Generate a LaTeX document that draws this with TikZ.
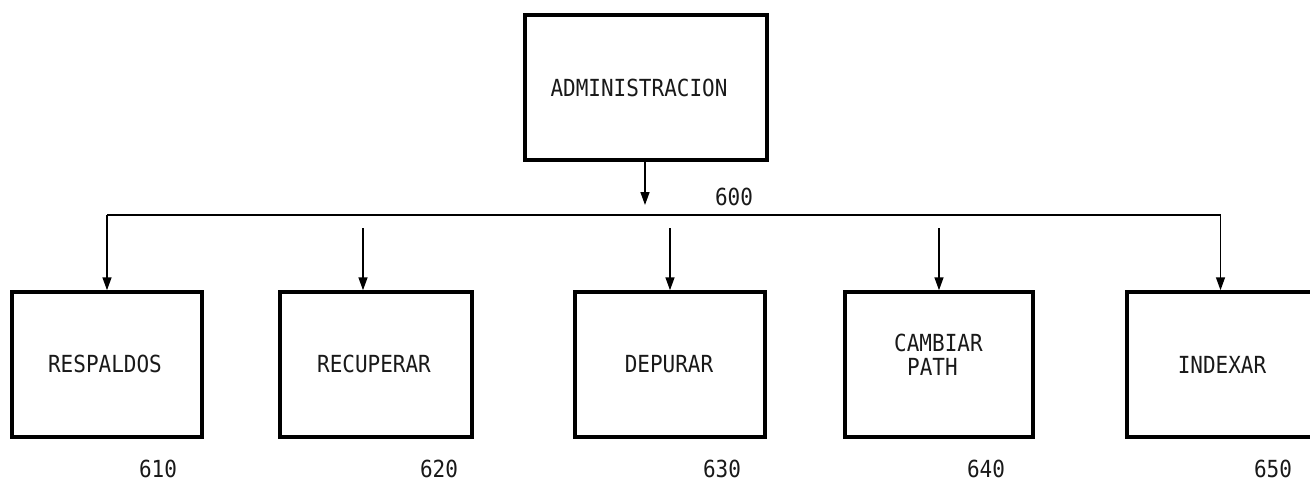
\documentclass[tikz,border=0pt]{standalone}
\usepackage{fontspec}
\usepackage{graphicx}
\newfontfamily\plotfont{DejaVu Sans Mono}
\newcommand{\tall}[1]{\scalebox{1}[1.12]{#1}}
\usetikzlibrary{arrows.meta}
\tikzset{
  box/.style={draw=black, line width=3.5pt, rectangle, inner sep=0pt},
  num/.style={inner sep=0pt, text=black!90, font=\plotfont\fontsize{21}{21}\selectfont},
  conn/.style={draw=black, line width=1.5pt},
  arr/.style={conn, -{Triangle[length=13pt,width=9pt]}}
}
\begin{document}
\begin{tikzpicture}[x=1pt,y=-1pt]
\useasboundingbox (0,0) rectangle (1310,483);
% top box
\node[box, minimum width=242pt, minimum height=145pt] (adm) at (646,87.5) {};
\node[num] (admt) at (639,88) {\tall{ADMINISTRACION}};
\node[num] (n600) at (734,197) {\tall{600}};
% children
\node[box, minimum width=190pt, minimum height=145pt] (b1) at (107,364.5) {};
\node[num] (t1) at (105,364) {\tall{RESPALDOS}};
\node[box, minimum width=192pt, minimum height=145pt] (b2) at (376,364.5) {};
\node[num] (t2) at (374,364) {\tall{RECUPERAR}};
\node[box, minimum width=190pt, minimum height=145pt] (b3) at (670,364.5) {};
\node[num] (t3) at (669,364) {\tall{DEPURAR}};
\node[box, minimum width=188pt, minimum height=145pt] (b4) at (939,364.5) {};
\node[num, anchor=base west] (t4a) at (894,351) {\tall{CAMBIAR}};
\node[num, anchor=base west] (t4b) at (907,375) {\tall{PATH}};
\node[box, minimum width=187pt, minimum height=145pt] (b5) at (1220.5,364.5) {};
\node[num] (t5) at (1222,365) {\tall{INDEXAR}};
% numbers
\node[num] (n610) at (158,469) {\tall{610}};
\node[num] (n620) at (439,469) {\tall{620}};
\node[num] (n630) at (722,469) {\tall{630}};
\node[num] (n640) at (986,469) {\tall{640}};
\node[num] (n650) at (1273,469) {\tall{650}};
% connectors
\coordinate (admtip) at (645,205);
\coordinate (bus) at (0,215);
\coordinate (s2) at (363,228);
\coordinate (s3) at (670,228);
\coordinate (s4) at (939,228);
\draw[arr] (adm.south -| admtip) -- (admtip);
\draw[conn] (bus -| b1.north) -- (bus -| b5.north);
\draw[arr] (bus -| b1.north) -- (b1.north);
\draw[arr] (bus -| b5.north) -- (b5.north);
\draw[arr] (s2) -- (s2 |- b2.north);
\draw[arr] (s3) -- (s3 |- b3.north);
\draw[arr] (s4) -- (s4 |- b4.north);
\end{tikzpicture}
\end{document}
